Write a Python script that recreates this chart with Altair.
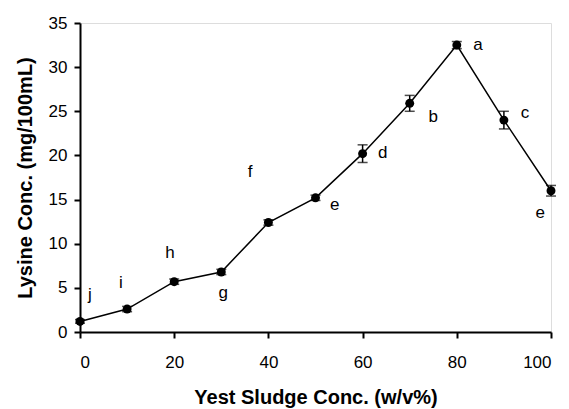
import altair as alt
import pandas as pd

x_vals = [0, 10, 20, 30, 40, 50, 60, 70, 80, 90, 100]
y_vals = [1.2, 2.6, 5.7, 6.8, 12.4, 15.2, 20.2, 25.9, 32.5, 24.0, 16.0]
y_err = [0.2, 0.3, 0.3, 0.3, 0.3, 0.3, 1.0, 0.9, 0.4, 1.0, 0.6]

letters = ["j", "i", "h", "g", "f", "e", "d", "b", "a", "c", "e"]
label_x = [2.1, 8.7, 19.1, 30.4, 36.1, 54.1, 64.3, 75.0, 84.5, 94.5, 97.7]
label_y = [4.2, 5.5, 8.9, 4.4, 18.1, 14.4, 20.3, 24.4, 32.5, 24.8, 13.5]

df = pd.DataFrame({
    "x": x_vals,
    "y": y_vals,
    "lo": [v - e for v, e in zip(y_vals, y_err)],
    "hi": [v + e for v, e in zip(y_vals, y_err)],
})
lab = pd.DataFrame({"lx": label_x, "ly": label_y, "t": letters})

FONT = "Liberation Sans"

xs = alt.Scale(domain=[0, 100], nice=False, zero=False)
ys = alt.Scale(domain=[0, 35], nice=False)

xax = alt.Axis(values=[0, 20, 40, 60, 80, 100], title="Yest Sludge Conc. (w/v%)",
               grid=False, domainColor="black", domainWidth=2, tickColor="black",
               tickWidth=2, tickSize=6, labelPadding=16, labelFontSize=17,
               labelColor="black", labelFont=FONT, titleFont=FONT, titleFontSize=20,
               titleFontWeight="bold", titleColor="black", titlePadding=17)
yax = alt.Axis(values=[0, 5, 10, 15, 20, 25, 30, 35], title="Lysine Conc. (mg/100mL)",
               grid=False, domainColor="black", domainWidth=2, tickColor="black",
               tickWidth=2, tickSize=6, labelPadding=7, labelFontSize=17,
               labelColor="black", labelFont=FONT, titleFont=FONT, titleFontSize=20,
               titleFontWeight="bold", titleColor="black", titlePadding=13)

base = alt.Chart(df)

line = base.mark_line(color="black", strokeWidth=1.5).encode(
    x=alt.X("x:Q", scale=xs, axis=xax),
    y=alt.Y("y:Q", scale=ys, axis=yax),
)
err = base.mark_rule(color="black", strokeWidth=1.5).encode(
    x=alt.X("x:Q", scale=xs), y=alt.Y("lo:Q", scale=ys), y2="hi:Q"
)
cap_lo = base.mark_tick(color="black", orient="horizontal", size=10, thickness=1.5).encode(
    x=alt.X("x:Q", scale=xs), y=alt.Y("lo:Q", scale=ys)
)
cap_hi = base.mark_tick(color="black", orient="horizontal", size=10, thickness=1.5).encode(
    x=alt.X("x:Q", scale=xs), y=alt.Y("hi:Q", scale=ys)
)
pts = base.mark_point(filled=True, color="black", size=80, opacity=1).encode(
    x=alt.X("x:Q", scale=xs), y=alt.Y("y:Q", scale=ys)
)
txt = alt.Chart(lab).mark_text(font=FONT, fontSize=17, color="black",
                               align="center", baseline="middle").encode(
    x=alt.X("lx:Q", scale=xs), y=alt.Y("ly:Q", scale=ys), text="t:N"
)

chart = alt.layer(line, err, cap_lo, cap_hi, pts, txt).properties(
    width=471, height=309,
    autosize=alt.AutoSizeParams(type="none"),
    padding={"left": 72, "top": 15, "right": 10, "bottom": 80},
).configure_view(stroke=None).configure(background="white")

chart.save("out.html", embed_options={"renderer": "svg", "actions": False})
